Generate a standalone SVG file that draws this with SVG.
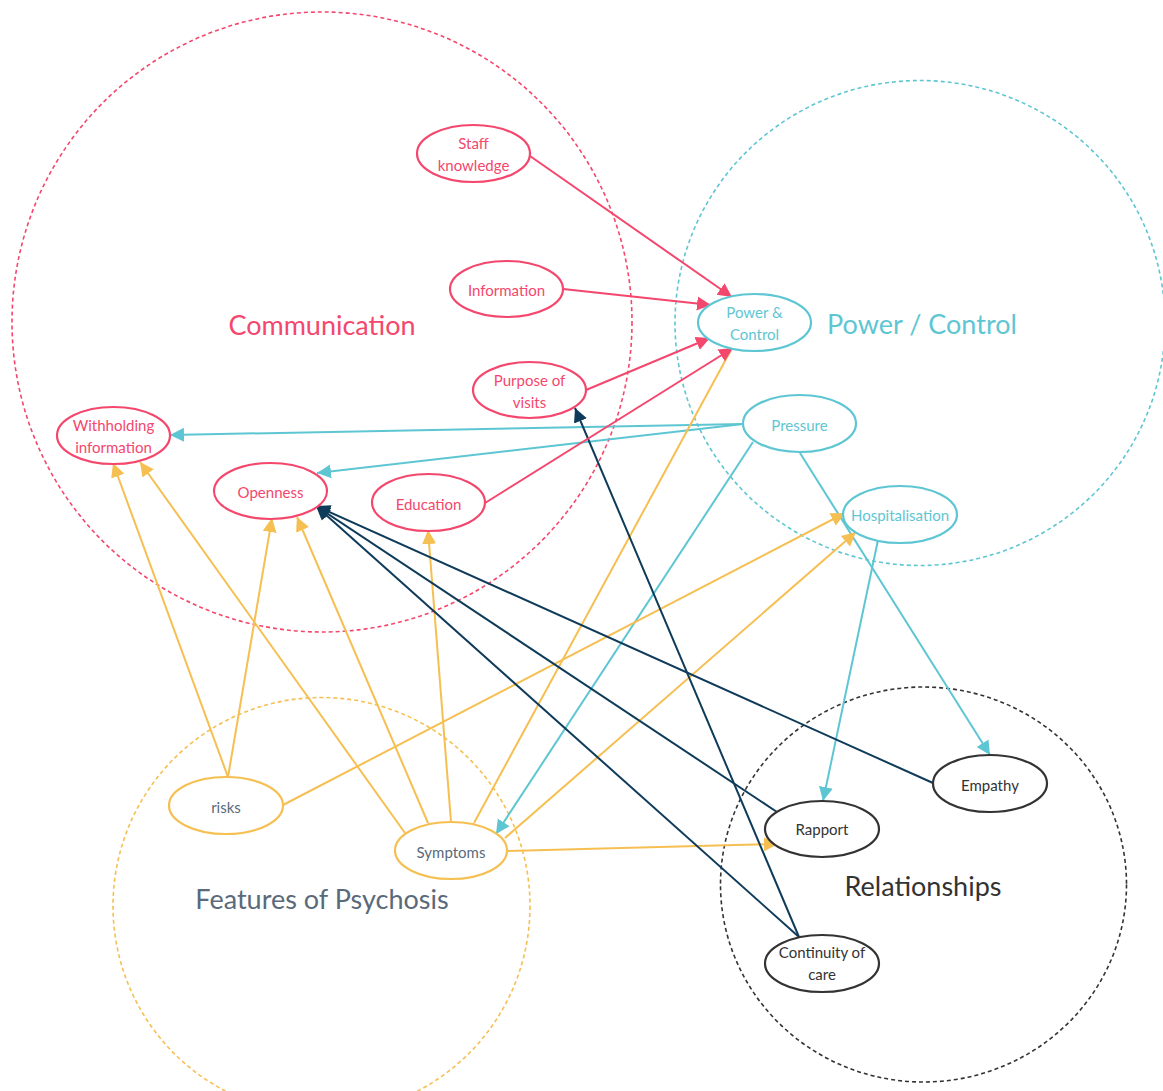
<svg xmlns="http://www.w3.org/2000/svg" width="1163" height="1091" viewBox="0 0 1163 1091">
<style>
.grp{fill:none;stroke-width:1.6;stroke-dasharray:4 3}
.node{fill:#fff;stroke-width:2.2}
.red{stroke:#f4476d}
.teal{stroke:#5ec6d3}
.orange{stroke:#f6bf52}
.dark{stroke:#333}
.c{fill:none;stroke-width:2}
.t{font-family:Lato,"Open Sans","Liberation Sans",sans-serif;font-size:15px;text-anchor:middle;dominant-baseline:central}
.g{font-family:Lato,"Open Sans","Liberation Sans",sans-serif;font-size:27px;text-anchor:middle;dominant-baseline:central}
.tr{fill:#f4476d}.tt{fill:#5ec6d3}.ts{fill:#5a6a7a}.td{fill:#333}
</style>
<defs>
<marker id="aR" markerUnits="userSpaceOnUse" markerWidth="16" markerHeight="16" refX="14" refY="8" orient="auto"><path d="M0,1 L14,8 L0,15 z" fill="#f4476d"/></marker>
<marker id="aT" markerUnits="userSpaceOnUse" markerWidth="16" markerHeight="16" refX="14" refY="8" orient="auto"><path d="M0,1 L14,8 L0,15 z" fill="#5ec6d3"/></marker>
<marker id="aO" markerUnits="userSpaceOnUse" markerWidth="16" markerHeight="16" refX="14" refY="8" orient="auto"><path d="M0,1 L14,8 L0,15 z" fill="#f6bf52"/></marker>
<marker id="aN" markerUnits="userSpaceOnUse" markerWidth="16" markerHeight="16" refX="14" refY="8" orient="auto"><path d="M0,1 L14,8 L0,15 z" fill="#0f3b5a"/></marker>
</defs>
<rect width="1163" height="1091" fill="#fff"/>
<g id="groups">
<circle class="grp red" cx="322" cy="322" r="310"/>
<ellipse class="grp teal" cx="920" cy="323" rx="245" ry="242.5"/>
<circle class="grp orange" cx="321.5" cy="906" r="208.5"/>
<ellipse class="grp dark" cx="923.5" cy="884.5" rx="203" ry="197.5"/>
<text class="g tr" x="322" y="324">Communication</text>
<text class="g tt" x="922" y="323">Power / Control</text>
<text class="g ts" x="322" y="898">Features of Psychosis</text>
<text class="g td" x="923" y="885">Relationships</text>
</g>
<g id="connectors">
<line class="c teal" x1="743" y1="424" x2="170" y2="435" marker-end="url(#aT)"/>
<line class="c teal" x1="743" y1="424" x2="317" y2="473" marker-end="url(#aT)"/>
<line class="c teal" x1="753" y1="442" x2="496" y2="834" marker-end="url(#aT)"/>
<line class="c teal" x1="800" y1="453" x2="990" y2="755" marker-end="url(#aT)"/>
<line class="c teal" x1="878" y1="540" x2="823" y2="801" marker-end="url(#aT)"/>
<line class="c orange" x1="228" y1="777" x2="113" y2="463" marker-end="url(#aO)"/>
<line class="c orange" x1="228" y1="777" x2="272" y2="518" marker-end="url(#aO)"/>
<line class="c orange" x1="283" y1="805" x2="845" y2="513" marker-end="url(#aO)"/>
<line class="c orange" x1="405" y1="833" x2="140" y2="462" marker-end="url(#aO)"/>
<line class="c orange" x1="428" y1="823" x2="297" y2="517" marker-end="url(#aO)"/>
<line class="c orange" x1="451" y1="822" x2="428" y2="530" marker-end="url(#aO)"/>
<line class="c orange" x1="474" y1="823" x2="731" y2="350"/>
<line class="c orange" x1="505" y1="838" x2="856" y2="532" marker-end="url(#aO)"/>
<line class="c orange" x1="507" y1="851" x2="778" y2="844" marker-end="url(#aO)"/>
<line class="c" stroke="#0f3b5a" x1="777" y1="812" x2="316" y2="506" marker-end="url(#aN)"/>
<line class="c" stroke="#0f3b5a" x1="933" y1="783" x2="316" y2="506" marker-end="url(#aN)"/>
<line class="c" stroke="#0f3b5a" x1="799" y1="937" x2="316" y2="506" marker-end="url(#aN)"/>
<line class="c" stroke="#0f3b5a" x1="799" y1="937" x2="575" y2="408" marker-end="url(#aN)"/>
<line class="c red" x1="530" y1="156" x2="732" y2="297" marker-end="url(#aR)"/>
<line class="c red" x1="563" y1="289" x2="711" y2="305" marker-end="url(#aR)"/>
<line class="c red" x1="586" y1="390" x2="710" y2="338" marker-end="url(#aR)"/>
<line class="c red" x1="485" y1="503" x2="733" y2="348" marker-end="url(#aR)"/>
</g>
<g id="staff-knowledge"><ellipse class="node red" cx="473.5" cy="153.5" rx="56.5" ry="28.5"/><text class="t tr" x="473.5" y="143">Staff</text><text class="t tr" x="473.5" y="165">knowledge</text></g>
<g id="information"><ellipse class="node red" cx="506.5" cy="289" rx="56.5" ry="28"/><text class="t tr" x="506.5" y="290">Information</text></g>
<g id="power-control"><ellipse class="node teal" cx="754.5" cy="322.5" rx="56.5" ry="28.5"/><text class="t tt" x="754.5" y="312">Power &amp;</text><text class="t tt" x="754.5" y="334">Control</text></g>
<g id="purpose-of-visits"><ellipse class="node red" cx="529.5" cy="390" rx="56.5" ry="28"/><text class="t tr" x="529.5" y="380">Purpose of</text><text class="t tr" x="529.5" y="402">visits</text></g>
<g id="pressure"><ellipse class="node teal" cx="799.5" cy="423.5" rx="56.5" ry="28.5"/><text class="t tt" x="799.5" y="425">Pressure</text></g>
<g id="hospitalisation"><ellipse class="node teal" cx="900" cy="514.5" rx="57" ry="28.5"/><text class="t tt" x="900" y="515">Hospitalisation</text></g>
<g id="withholding-information"><ellipse class="node red" cx="113.5" cy="435.5" rx="56.5" ry="28.5"/><text class="t tr" x="113.5" y="425">Withholding</text><text class="t tr" x="113.5" y="447">information</text></g>
<g id="openness"><ellipse class="node red" cx="270.5" cy="491" rx="56.5" ry="28"/><text class="t tr" x="270.5" y="492">Openness</text></g>
<g id="education"><ellipse class="node red" cx="428.5" cy="502.5" rx="56.5" ry="28.5"/><text class="t tr" x="428.5" y="504">Education</text></g>
<g id="risks"><ellipse class="node orange" cx="226" cy="805.5" rx="57" ry="28.5"/><text class="t ts" x="226" y="807">risks</text></g>
<g id="symptoms"><ellipse class="node orange" cx="451" cy="850.5" rx="56" ry="28.5"/><text class="t ts" x="451" y="852">Symptoms</text></g>
<g id="empathy"><ellipse class="node dark" cx="990" cy="783.5" rx="57" ry="28.5"/><text class="t td" x="990" y="785">Empathy</text></g>
<g id="rapport"><ellipse class="node dark" cx="822" cy="829" rx="57" ry="28"/><text class="t td" x="822" y="829">Rapport</text></g>
<g id="continuity-of-care"><ellipse class="node dark" cx="822" cy="963.5" rx="57" ry="28.5"/><text class="t td" x="822" y="952">Continuity of</text><text class="t td" x="822" y="974">care</text></g>
</svg>
